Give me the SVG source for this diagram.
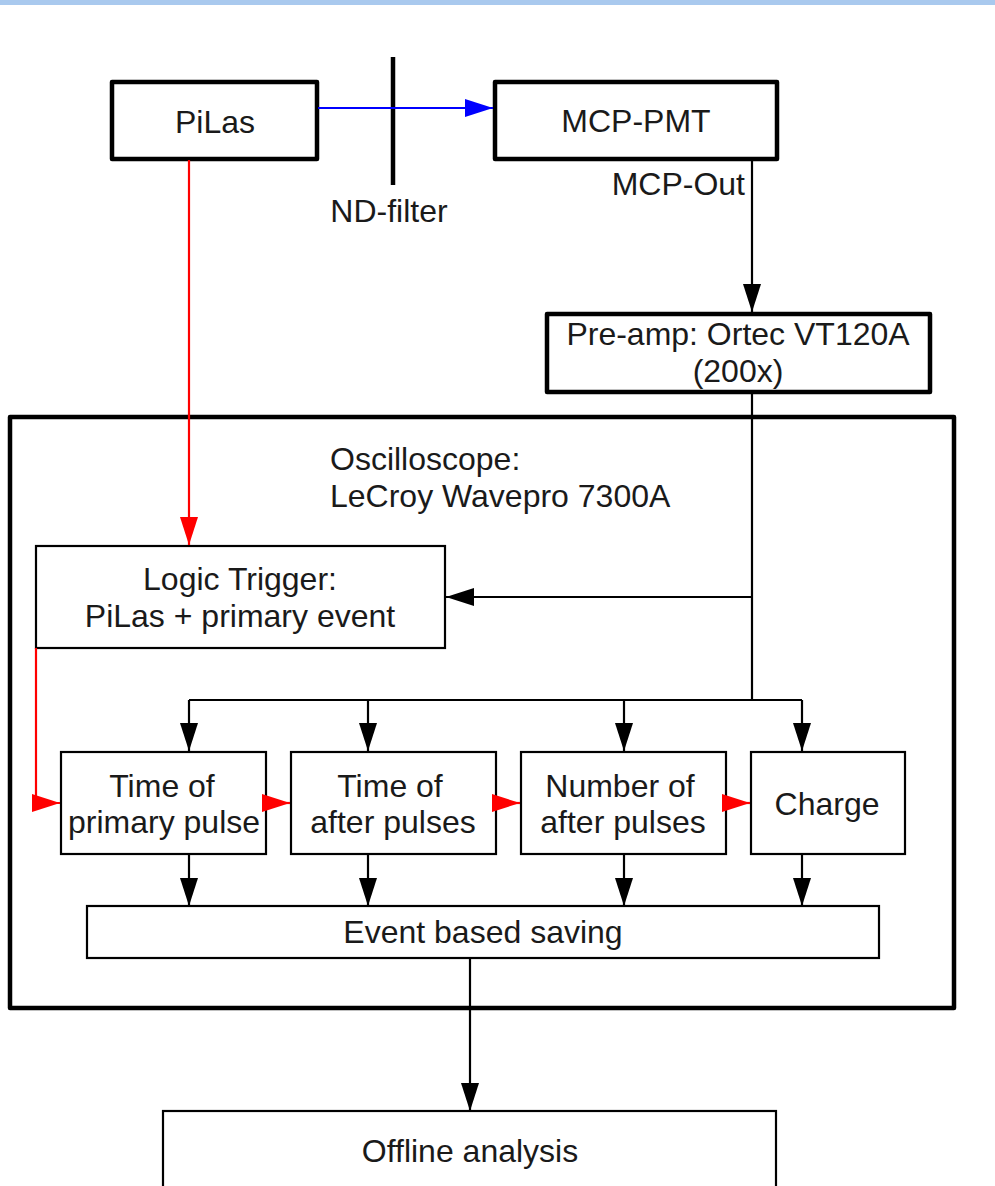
<svg xmlns="http://www.w3.org/2000/svg" width="995" height="1186" viewBox="0 0 995 1186">
<style>
text{font-family:"Liberation Sans",Arial,sans-serif;font-size:32px;fill:#1a1a1a}
.c{text-anchor:middle}
.thick{fill:#fff;stroke:#000;stroke-width:4.5;stroke-linejoin:round}
.thin{fill:#fff;stroke:#000;stroke-width:2.2}
.blk{fill:none;stroke:#000;stroke-width:2.2}
.red{fill:none;stroke:#f00;stroke-width:2.2}
.blue{fill:none;stroke:#00f;stroke-width:2.2}
</style>
<defs>
<marker id="ab" markerUnits="userSpaceOnUse" markerWidth="28" markerHeight="18" refX="28" refY="9" orient="auto"><path d="M0,0L28,9L0,18z" fill="#000"/></marker>
<marker id="ar" markerUnits="userSpaceOnUse" markerWidth="28" markerHeight="18" refX="28" refY="9" orient="auto"><path d="M0,0L28,9L0,18z" fill="#f00"/></marker>
<marker id="au" markerUnits="userSpaceOnUse" markerWidth="28" markerHeight="18" refX="28" refY="9" orient="auto"><path d="M0,0L28,9L0,18z" fill="#00f"/></marker>
</defs>
<rect x="0" y="0" width="995" height="5" fill="#a9c9ee"/>
<g id="oscilloscope">
<rect class="thick" x="10" y="417" width="944" height="591"/>
<text x="330" y="470">Oscilloscope:</text>
<text x="330" y="507">LeCroy Wavepro 7300A</text>
</g>
<g id="pilas"><rect class="thick" x="112" y="82" width="205" height="77"/><text class="c" x="215" y="133">PiLas</text></g>
<g id="mcppmt"><rect class="thick" x="495" y="82" width="282" height="77"/><text class="c" x="636" y="132">MCP-PMT</text></g>
<g id="preamp"><rect class="thick" x="547" y="314" width="383" height="78"/><text class="c" x="738" y="345">Pre-amp: Ortec VT120A</text><text class="c" x="738" y="382">(200x)</text></g>
<g id="ndfilter"><line x1="393" y1="57" x2="393" y2="185" stroke="#000" stroke-width="4.5"/><text class="c" x="389" y="222">ND-filter</text></g>
<g id="trigger"><rect class="thin" x="36" y="546" width="409" height="102"/><text class="c" x="240" y="590">Logic Trigger:</text><text class="c" x="240" y="627">PiLas + primary event</text></g>
<g id="timeprimary"><rect class="thin" x="61" y="752" width="205" height="102"/><text class="c" x="162" y="797">Time of</text><text class="c" x="164" y="833">primary pulse</text></g>
<g id="timeafter"><rect class="thin" x="291" y="752" width="205" height="102"/><text class="c" x="390" y="797">Time of</text><text class="c" x="393" y="833">after pulses</text></g>
<g id="numafter"><rect class="thin" x="521" y="752" width="205" height="102"/><text class="c" x="620" y="797">Number of</text><text class="c" x="623" y="833">after pulses</text></g>
<g id="charge"><rect class="thin" x="751" y="752" width="154" height="102"/><text class="c" x="827" y="815">Charge</text></g>
<g id="saving"><rect class="thin" x="87" y="906" width="792" height="52"/><text class="c" x="483" y="943">Event based saving</text></g>
<g id="offline"><rect class="thin" x="163" y="1111" width="613" height="90"/><text class="c" x="470" y="1162">Offline analysis</text></g>
<g id="connectors">
<path class="blue" d="M318,108H493" marker-end="url(#au)"/>
<path class="red" d="M189,160V545" marker-end="url(#ar)"/>
<path class="blk" d="M752,159V312" marker-end="url(#ab)"/>
<text x="745" y="195" style="text-anchor:end">MCP-Out</text>
<path class="blk" d="M752,392V700"/>
<path class="blk" d="M752,597H446" marker-end="url(#ab)"/>
<path class="blk" d="M189,700H802"/>
<path class="blk" d="M189,700V751" marker-end="url(#ab)"/>
<path class="blk" d="M368,700V751" marker-end="url(#ab)"/>
<path class="blk" d="M624,700V751" marker-end="url(#ab)"/>
<path class="blk" d="M802,700V751" marker-end="url(#ab)"/>
<path class="red" d="M36,648V803H60" marker-end="url(#ar)"/>
<path class="red" d="M263,803H290" marker-end="url(#ar)"/>
<path class="red" d="M493,803H520" marker-end="url(#ar)"/>
<path class="red" d="M723,803H750" marker-end="url(#ar)"/>
<path class="blk" d="M189,854V906" marker-end="url(#ab)"/>
<path class="blk" d="M368,854V906" marker-end="url(#ab)"/>
<path class="blk" d="M624,854V906" marker-end="url(#ab)"/>
<path class="blk" d="M802,854V906" marker-end="url(#ab)"/>
<path class="blk" d="M470,958V1111" marker-end="url(#ab)"/>
</g>
</svg>
